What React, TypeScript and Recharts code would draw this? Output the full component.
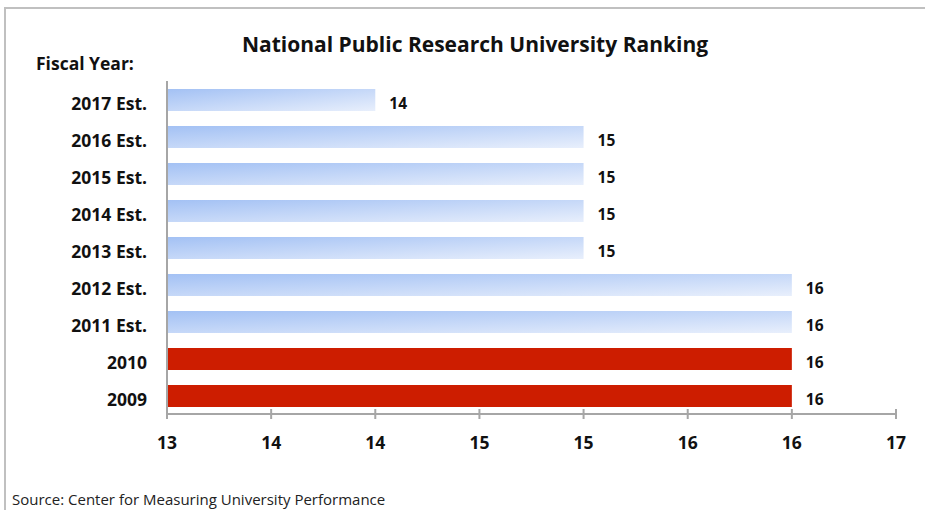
import React from "react";
import { BarChart, Bar, XAxis, YAxis, Cell, LabelList } from "recharts";

const fiscalYears = [
  "2017 Est.",
  "2016 Est.",
  "2015 Est.",
  "2014 Est.",
  "2013 Est.",
  "2012 Est.",
  "2011 Est.",
  "2010",
  "2009",
];
const rankings = [14, 15, 15, 15, 15, 16, 16, 16, 16];
const isEstimate = [true, true, true, true, true, true, true, false, false];

const xTickValues = [13, 13.5, 14, 14.5, 15, 15.5, 16, 16.5];
const xTickLabels = ["13", "14", "14", "15", "15", "16", "16", "17"];

const data = fiscalYears.map((year, i) => ({
  year,
  rank: rankings[i],
  estimate: isEstimate[i],
}));

const FONT = "'Open Sans', Lato, sans-serif";
const AXIS_GRAY = "#a6a6a6";

function XTick(props: any) {
  const { x, y, index } = props;
  return (
    <g>
      <line x1={x} x2={x} y1={y - 5} y2={y + 5} stroke={AXIS_GRAY} strokeWidth={2} />
      <text
        x={x}
        y={y + 35}
        textAnchor="middle"
        fontFamily={FONT}
        fontWeight={700}
        fontSize={17.5}
        fill="#111"
      >
        {xTickLabels[index]}
      </text>
    </g>
  );
}

function YTick(props: any) {
  const { x, y, payload } = props;
  return (
    <text
      x={x}
      y={y + 10}
      textAnchor="end"
      fontFamily={FONT}
      fontWeight={700}
      fontSize={17.5}
      fill="#111"
    >
      {payload.value}
    </text>
  );
}

export default function App() {
  return (
    <div
      style={{
        position: "absolute",
        left: 0,
        top: 0,
        width: 925,
        height: 510,
        background: "#fff",
        fontFamily: FONT,
        overflow: "hidden",
      }}
    >
      <div
        style={{
          position: "absolute",
          left: 4,
          top: 7,
          width: 940,
          height: 520,
          borderLeft: "2px solid #c0c0c0",
          borderTop: "2px solid #c0c0c0",
        }}
      />
      <div
        style={{
          position: "absolute",
          left: 0,
          width: 950,
          top: 30,
          textAlign: "center",
          fontWeight: 700,
          fontSize: 21,
          color: "#111",
        }}
      >
        National Public Research University Ranking
      </div>
      <div
        style={{
          position: "absolute",
          left: 36,
          top: 51,
          fontWeight: 700,
          fontSize: 17.5,
          color: "#111",
        }}
      >
        Fiscal Year:
      </div>
      <div
        style={{
          position: "absolute",
          left: 12,
          top: 489,
          fontSize: 15,
          color: "#222",
        }}
      >
        Source: Center for Measuring University Performance
      </div>
      <div style={{ position: "absolute", left: 0, top: 0 }}>
        <BarChart
          width={925}
          height={510}
          data={data}
          layout="vertical"
          margin={{ top: 81, right: 29, bottom: 66, left: 0 }}
          barCategoryGap={15}
        >
          <defs>
            <linearGradient id="estGrad" x1="0" y1="0" x2="1" y2="1">
              <stop offset="0%" stopColor="#a3c1f4" />
              <stop offset="100%" stopColor="#e8effc" />
            </linearGradient>
          </defs>
          <XAxis
            type="number"
            domain={[13, 16.5]}
            ticks={xTickValues}
            allowDataOverflow
            height={30}
            axisLine={{ stroke: AXIS_GRAY, strokeWidth: 2 }}
            tickLine={false}
            tickSize={0}
            tickMargin={0}
            tick={<XTick />}
            interval={0}
          />
          <YAxis
            type="category"
            dataKey="year"
            width={167}
            axisLine={{ stroke: AXIS_GRAY, strokeWidth: 2 }}
            tickLine={false}
            tickSize={0}
            tickMargin={20}
            interval={0}
            tick={<YTick />}
          />
          <Bar dataKey="rank" barSize={22} isAnimationActive={false}>
            {data.map((d, i) => (
              <Cell key={i} fill={d.estimate ? "url(#estGrad)" : "#cd1d00"} />
            ))}
            <LabelList
              dataKey="rank"
              position="right"
              offset={14}
              dy={3}
              fill="#111"
              fontSize={15.5}
              fontWeight={700}
              fontFamily={FONT}
            />
          </Bar>
        </BarChart>
      </div>
    </div>
  );
}
